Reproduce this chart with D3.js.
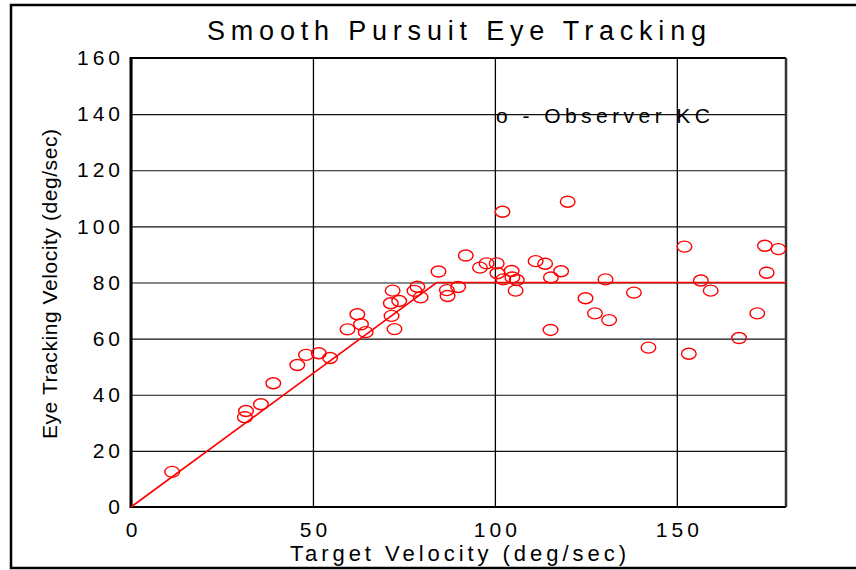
<!DOCTYPE html>
<html><head><meta charset="utf-8">
<script src="https://cdn.jsdelivr.net/npm/d3@7"></script>
<style>body{margin:0;background:#fff}svg{display:block;font-family:"Liberation Sans",Arial,sans-serif}</style>
</head><body>
<script>
const targetVelocity = [11.3,31.3,31.6,35.7,39.1,45.7,48.1,51.6,54.7,59.5,62.2,63.2,64.5,71.9,71.4,73.7,71.6,72.4,77.9,78.7,79.6,84.5,86.8,87.0,89.9,92.0,95.9,97.7,100.5,100.7,102.1,120.0,102.3,104.6,104.8,106.0,105.7,111.2,113.8,118.2,115.4,115.3,124.9,127.5,131.4,130.4,138.2,142.2,152.1,153.3,156.6,159.3,167.1,172.1,174.2,177.9,174.7];
const eyeVelocity = [12.5,32.0,34.2,36.6,44.1,50.6,54.2,54.8,53.1,63.3,68.7,65.1,62.3,77.1,72.6,73.4,68.1,63.4,77.0,78.5,74.7,83.9,77.3,75.2,78.4,89.6,85.3,86.8,86.8,83.3,105.2,108.8,81.1,84.1,81.8,80.9,77.1,87.6,86.7,84.0,81.8,63.1,74.4,69.0,66.6,81.1,76.4,56.8,92.8,54.6,80.7,77.1,60.2,69.0,93.1,91.9,83.5];
const fitX = [0, 84, 180];
const fitY = [0, 80, 80];
const xTicks = [0, 50, 100, 150];
const yTicks = [0, 20, 40, 60, 80, 100, 120, 140, 160];
const title = "Smooth Pursuit Eye Tracking";
const xLabel = "Target Velocity (deg/sec)";
const yLabel = "Eye Tracking Velocity (deg/sec)";
const legendText = "o - Observer KC";

const W = 856, H = 570;
const L = 131, R = 786, T = 58, B = 507;
const svg = d3.select("body").append("svg").attr("width", W).attr("height", H);
svg.append("rect").attr("x",11).attr("y",5).attr("width",870).attr("height",563)
  .attr("fill","none").attr("stroke","#000").attr("stroke-width",2.5);

const x = d3.scaleLinear().domain([0,180]).range([L,R]);
const y = d3.scaleLinear().domain([0,160]).range([B,T]);

// grid
const gx = svg.append("g").attr("transform",`translate(0,${B})`)
  .call(d3.axisBottom(x).tickValues(xTicks).tickSize(-(B-T)).tickFormat(""));
gx.select(".domain").remove();
gx.selectAll("line").attr("stroke","#000").attr("stroke-width",1.3);
const gy = svg.append("g").attr("transform",`translate(${L},0)`)
  .call(d3.axisLeft(y).tickValues(yTicks).tickSize(-(R-L)).tickFormat(""));
gy.select(".domain").remove();
gy.selectAll("line").attr("stroke","#111").attr("stroke-width",1.2);

// legend text (under grid overlap)
svg.append("text").attr("x",496).attr("y",123).attr("font-size",21)
  .attr("textLength",214).attr("lengthAdjust","spacing").text(legendText);

// frame
svg.append("line").attr("x1",L).attr("x2",R).attr("y1",T).attr("y2",T).attr("stroke","#000").attr("stroke-width",2);
svg.append("line").attr("x1",R).attr("x2",R).attr("y1",T).attr("y2",B).attr("stroke","#333").attr("stroke-width",2.5);
svg.append("line").attr("x1",L).attr("x2",R).attr("y1",B).attr("y2",B).attr("stroke","#000").attr("stroke-width",2);
svg.append("line").attr("x1",L).attr("x2",L).attr("y1",T-1).attr("y2",B+1).attr("stroke","#000").attr("stroke-width",3);

// axis labels
const ax = svg.append("g").attr("transform",`translate(0,${B})`)
  .call(d3.axisBottom(x).tickValues(xTicks).tickSize(0).tickPadding(12).tickFormat(d3.format("d")));
ax.select(".domain").remove();
ax.selectAll("text").attr("font-size",21).attr("font-family","Liberation Sans, Arial, sans-serif")
  .attr("fill","#000").attr("letter-spacing","4px").attr("dx","2px").attr("dy","0.85em");
const ay = svg.append("g").attr("transform",`translate(${L},0)`)
  .call(d3.axisLeft(y).tickValues(yTicks).tickSize(0).tickPadding(11).tickFormat(d3.format("d")));
ay.select(".domain").remove();
ay.selectAll("text").attr("font-size",21).attr("font-family","Liberation Sans, Arial, sans-serif")
  .attr("fill","#000").attr("letter-spacing","4px").attr("dx","4px");

// fit line
svg.append("path").datum(fitX.map((v,i)=>[v,fitY[i]]))
  .attr("d", d3.line().x(d=>x(d[0])).y(d=>y(d[1])))
  .attr("fill","none").attr("stroke","#f00").attr("stroke-width",1.6);

// points
svg.append("g").selectAll("ellipse").data(targetVelocity.map((v,i)=>[v,eyeVelocity[i]])).join("ellipse")
  .attr("cx",d=>x(d[0])).attr("cy",d=>y(d[1])).attr("rx",7.3).attr("ry",5.5)
  .attr("fill","none").attr("stroke","#f00").attr("stroke-width",1.4);

// titles
svg.append("text").attr("x",207).attr("y",40).attr("font-size",27)
  .attr("textLength",499).attr("lengthAdjust","spacing").text(title);
svg.append("text").attr("x",290).attr("y",561).attr("font-size",22)
  .attr("textLength",336).attr("lengthAdjust","spacing").text(xLabel);
svg.append("text").attr("transform","translate(57,439) rotate(-90)").attr("font-size",21)
  .attr("textLength",310).attr("lengthAdjust","spacing").text(yLabel);
</script>
</body></html>
